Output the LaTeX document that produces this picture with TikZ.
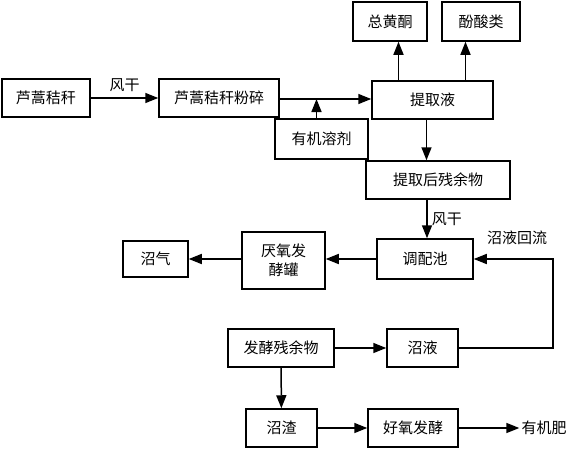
\documentclass[tikz,border=0pt]{standalone}
\usepackage{fontspec}
\newfontfamily\cjk{Noto Sans CJK SC}
\usepackage{tikz}
\usetikzlibrary{arrows.meta}
\tikzset{
    flowbox/.style={
        draw,
        line width=1.5pt,
        align=center,
        fill=white,
        inner sep=0pt,
        font=\cjk\fontsize{15}{19}\selectfont
    },
    tag/.style={
        inner sep=2pt,
        font=\cjk\fontsize{15}{19}\selectfont
    },
    arrow/.style={
        -{Triangle[length=13pt,width=10pt]},
        line width=1.5pt
    }
}

\begin{document}
\begin{tikzpicture}[x=1pt, y=-1pt]
    \useasboundingbox (0,0) rectangle (571,450);

    \node[flowbox, minimum width=88pt, minimum height=38pt] (raw) at (46,98) {芦蒿秸秆};
    \node[flowbox, minimum width=120pt, minimum height=38pt] (crushed) at (219,98) {芦蒿秸秆粉碎};
    \node[flowbox, minimum width=121pt, minimum height=38pt] (extract) at (432.5,100) {提取液};
    \node[flowbox, minimum width=74pt, minimum height=39pt] (flavone) at (390,21.5) {总黄酮};
    \node[flowbox, minimum width=78pt, minimum height=39pt] (phenolic) at (481,21.5) {酚酸类};
    \node[flowbox, minimum width=93pt, minimum height=40pt] (solvent) at (321.5,139) {有机溶剂};
    \node[flowbox, minimum width=144pt, minimum height=38pt] (residue) at (438,180) {提取后残余物};
    \node[flowbox, minimum width=96pt, minimum height=40pt] (mixpool) at (425,259) {调配池};
    \node[flowbox, minimum width=83pt, minimum height=57pt] (anaerobic) at (283.5,260.5) {厌氧发\\酵罐};
    \node[flowbox, minimum width=65pt, minimum height=36pt] (biogas) at (155.5,259) {沼气};
    \node[flowbox, minimum width=106pt, minimum height=38pt] (fermres) at (281,348) {发酵残余物};
    \node[flowbox, minimum width=71pt, minimum height=38pt] (slurry) at (422.5,348) {沼液};
    \node[flowbox, minimum width=71pt, minimum height=38pt] (digestate) at (281.5,428) {沼渣};
    \node[flowbox, minimum width=90pt, minimum height=38pt] (aerobic) at (413,428) {好氧发酵};
    \node[tag] (fertilizer) at (544,428) {有机肥};
    \coordinate (turn) at (553,348);

    \draw[arrow] (raw) -- node[tag, above=4pt] {风干} (crushed);
    \draw[arrow] ([yshift=-1pt]crushed.east) -- ([yshift=-1pt]crushed.east -| extract.west);
    \draw[arrow] ([xshift=-5pt]solvent.north) -- ([xshift=-5pt,yshift=-1pt]solvent.north |- crushed.east);
    \draw[arrow] ([xshift=-34pt]extract.north) -- ([xshift=-34pt]extract.north |- flavone.south);
    \draw[arrow] ([xshift=33pt]extract.north) -- ([xshift=33pt]extract.north |- phenolic.south);
    \draw[arrow] ([xshift=-6pt]extract.south) -- ([xshift=-6pt]extract.south |- residue.north);
    \draw[arrow] ([xshift=2pt]mixpool.north |- residue.south) -- node[tag, right=2pt] {风干} ([xshift=2pt]mixpool.north);
    \draw[arrow] (mixpool.west) -- (mixpool.west -| anaerobic.east);
    \draw[arrow] (anaerobic.west |- biogas) -- (biogas);
    \draw[arrow] (slurry.east) -- (turn) |- (mixpool.east);
    \node[tag] at (517,238) {沼液回流};
    \draw[arrow] (fermres) -- (slurry);
    \draw[arrow] (fermres) -- (digestate);
    \draw[arrow] (digestate) -- (aerobic);
    \draw[arrow] (aerobic) -- (fertilizer);
\end{tikzpicture}
\end{document}
